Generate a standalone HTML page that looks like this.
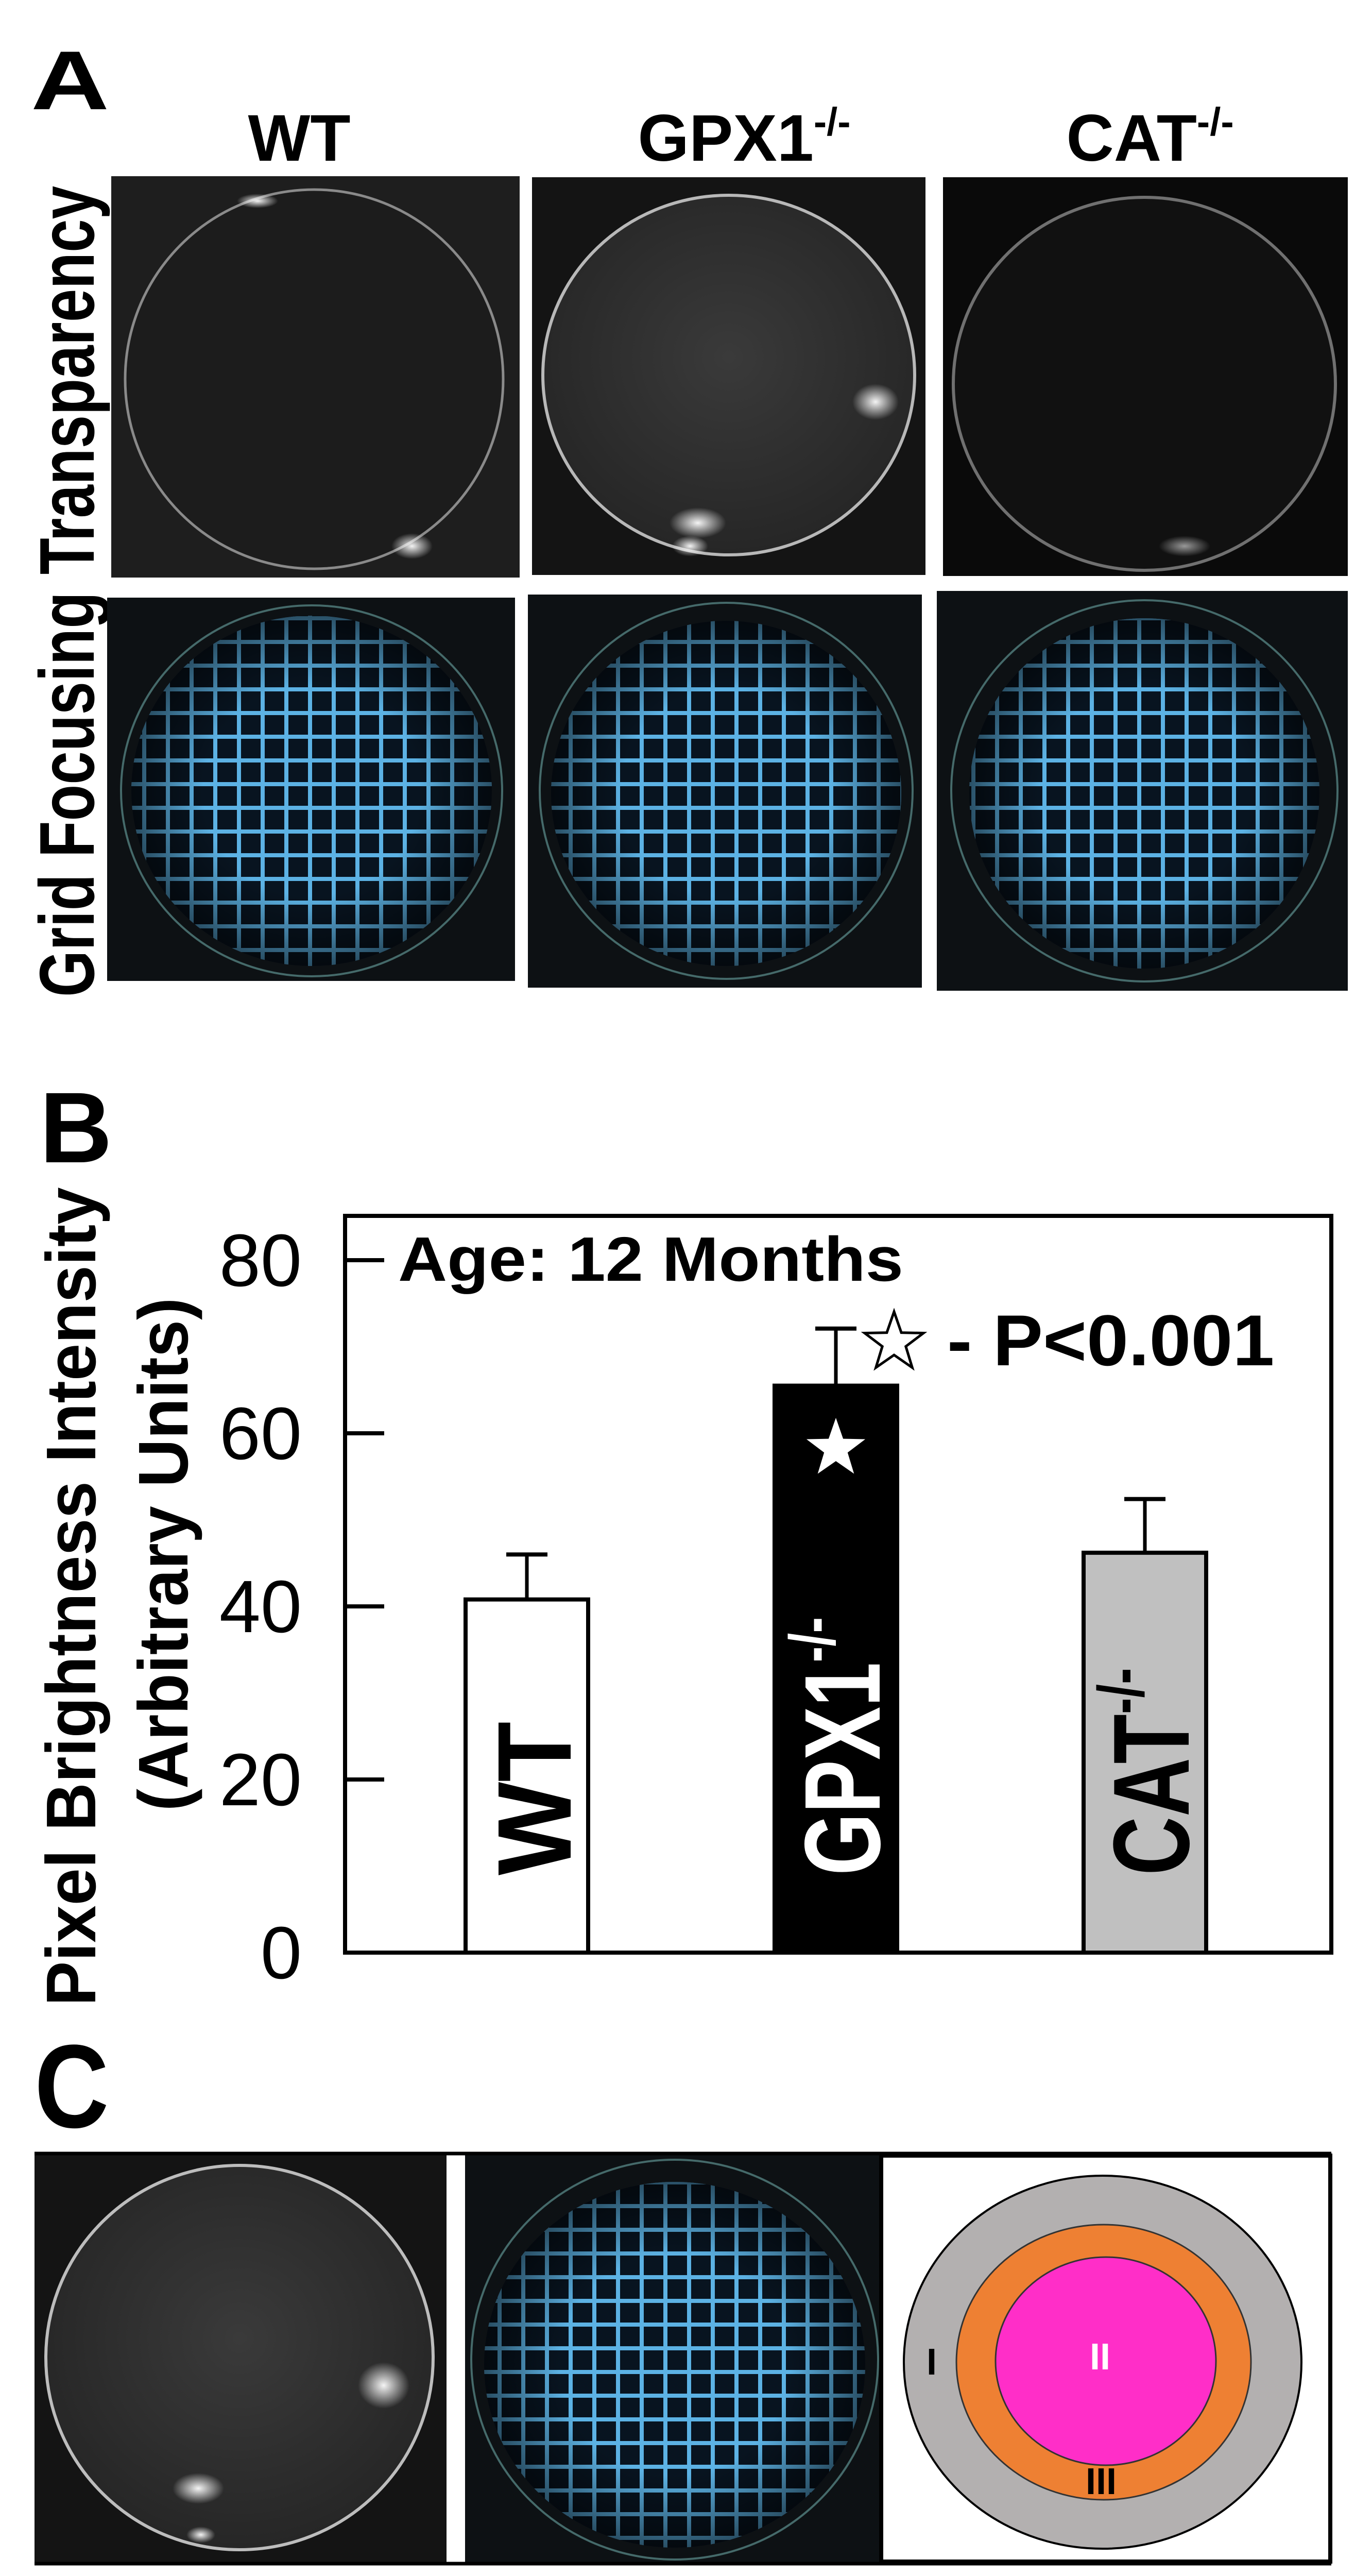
<!DOCTYPE html>
<html><head><meta charset="utf-8"><style>
html,body{margin:0;padding:0;background:#fff;width:2664px;height:5040px;overflow:hidden;}
svg{display:block;}
text{font-family:"Liberation Sans",Arial,sans-serif;}
</style></head><body>
<svg id="fig" xmlns="http://www.w3.org/2000/svg" width="2664" height="5040" viewBox="0 0 2664 5040">
<defs>
<pattern id="gridpat" width="46" height="46" patternUnits="userSpaceOnUse">
<rect width="46" height="46" fill="#081420"/>
<path d="M0 4 H46 M4 0 V46" stroke="#5cb2e4" stroke-width="8" fill="none"/>
</pattern>
<radialGradient id="vign" cx="50%" cy="50%" r="50%">
<stop offset="0.6" stop-color="#000" stop-opacity="0"/>
<stop offset="1" stop-color="#000" stop-opacity="0.55"/>
</radialGradient>
<radialGradient id="lensGray" cx="50%" cy="45%" r="55%">
<stop offset="0" stop-color="#3a3a3a"/>
<stop offset="1" stop-color="#262626"/>
</radialGradient>
<radialGradient id="glow" cx="50%" cy="50%" r="50%">
<stop offset="0" stop-color="#fff" stop-opacity="0.95"/>
<stop offset="1" stop-color="#fff" stop-opacity="0"/>
</radialGradient>
</defs>

<!-- Panel A -->
<g>
<text font-size="162" font-weight="bold" transform="translate(60,212) scale(1.3,1)">A</text>
<text x="581" y="312" font-size="128" font-weight="bold" text-anchor="middle">WT</text>
<text x="1445" y="312" font-size="128" font-weight="bold" text-anchor="middle">GPX1<tspan font-size="76" dy="-50">-/-</tspan></text>
<text x="2233" y="312" font-size="128" font-weight="bold" text-anchor="middle">CAT<tspan font-size="76" dy="-50">-/-</tspan></text>
<text font-size="116" font-weight="bold" text-anchor="middle" transform="translate(182,738) rotate(-90) scale(1,1.3)">Transparency</text>
<text font-size="116" font-weight="bold" text-anchor="middle" transform="translate(182,1542) rotate(-90) scale(1,1.3)">Grid Focusing</text>

<g>
<rect x="216" y="342" width="793" height="779" fill="#1e1e1e"/>
<ellipse cx="610" cy="736" rx="367" ry="368" fill="#1c1c1c" stroke="#8a8a8a" stroke-width="5"/>
<ellipse cx="500" cy="390" rx="40" ry="14" fill="url(#glow)"/>
<ellipse cx="800" cy="1060" rx="40" ry="25" fill="url(#glow)"/>
</g>
<g>
<rect x="1033" y="344" width="764" height="772" fill="#141414"/>
<ellipse cx="1415" cy="728" rx="361" ry="349" fill="url(#lensGray)" stroke="#b8b8b8" stroke-width="6"/>
<ellipse cx="1700" cy="780" rx="45" ry="35" fill="url(#glow)"/>
<ellipse cx="1355" cy="1015" rx="55" ry="30" fill="url(#glow)"/>
<ellipse cx="1340" cy="1060" rx="35" ry="20" fill="url(#glow)"/>
</g>
<g>
<rect x="1831" y="344" width="786" height="774" fill="#0a0a0a"/>
<ellipse cx="2222" cy="745" rx="371" ry="362" fill="#111" stroke="#707070" stroke-width="6"/>
<ellipse cx="2300" cy="1060" rx="50" ry="20" fill="url(#glow)" opacity="0.6"/>
</g>
<g>
<rect x="208" y="1160" width="792" height="744" fill="#0d1114"/>
<ellipse cx="605" cy="1535" rx="370" ry="360" fill="none" stroke="#456a6a" stroke-width="4"/>
<ellipse cx="605" cy="1535" rx="350" ry="340" fill="url(#gridpat)"/>
<ellipse cx="605" cy="1535" rx="350" ry="340" fill="url(#vign)"/>
</g>
<g>
<rect x="1025" y="1154" width="765" height="763" fill="#0d1114"/>
<ellipse cx="1410" cy="1535" rx="362" ry="365" fill="none" stroke="#456a6a" stroke-width="4"/>
<ellipse cx="1410" cy="1540" rx="340" ry="335" fill="url(#gridpat)"/>
<ellipse cx="1410" cy="1540" rx="340" ry="335" fill="url(#vign)"/>
</g>
<g>
<rect x="1819" y="1147" width="798" height="776" fill="#0d1114"/>
<ellipse cx="2222" cy="1535" rx="375" ry="370" fill="none" stroke="#456a6a" stroke-width="4"/>
<ellipse cx="2222" cy="1540" rx="340" ry="340" fill="url(#gridpat)"/>
<ellipse cx="2222" cy="1540" rx="340" ry="340" fill="url(#vign)"/>
</g>
</g>

<!-- Panel B -->
<g id="panelB">
<text font-size="195" font-weight="bold" transform="translate(77,2256)">B</text>
</g>

<!-- Panel C -->
<g>
<text font-size="230" font-weight="bold" transform="translate(67,4129) scale(0.87,1)">C</text>
<g>
<rect x="67" y="4180" width="800" height="796" fill="#141414"/>
<ellipse cx="465" cy="4576" rx="376" ry="373" fill="url(#lensGray)" stroke="#bdbdbd" stroke-width="6"/>
<ellipse cx="745" cy="4630" rx="50" ry="45" fill="url(#glow)"/>
<ellipse cx="385" cy="4830" rx="50" ry="30" fill="url(#glow)"/>
<ellipse cx="390" cy="4920" rx="28" ry="16" fill="url(#glow)"/>
</g>
<g>
<rect x="903" y="4180" width="808" height="796" fill="#0d1114"/>
<ellipse cx="1310" cy="4580" rx="395" ry="388" fill="none" stroke="#456a6a" stroke-width="4"/>
<ellipse cx="1310" cy="4590" rx="370" ry="355" fill="url(#gridpat)"/>
<ellipse cx="1310" cy="4590" rx="370" ry="355" fill="url(#vign)"/>
</g>
<line x1="67" y1="4180" x2="2585" y2="4180" stroke="#000" stroke-width="7"/>
<line x1="67" y1="4976" x2="2585" y2="4976" stroke="#000" stroke-width="7"/>
<g>
<rect x="1711" y="4184" width="872" height="788" fill="#fff" stroke="#000" stroke-width="8"/>
<ellipse cx="2141" cy="4585" rx="386" ry="362" fill="#b3b0b0" stroke="#000" stroke-width="4"/>
<ellipse cx="2143" cy="4585" rx="286" ry="267" fill="#ee8033" stroke="#333" stroke-width="3"/>
<ellipse cx="2147" cy="4583" rx="214" ry="202" fill="#ff2ec8" stroke="#333" stroke-width="3"/>
<text font-family="Liberation Serif,serif" font-weight="bold" font-size="72" text-anchor="middle" transform="translate(1809,4609)">I</text>
<text font-family="Liberation Serif,serif" font-weight="bold" font-size="72" fill="#fff" text-anchor="middle" transform="translate(2136,4599)">II</text>
<text font-family="Liberation Serif,serif" font-weight="bold" font-size="72" text-anchor="middle" transform="translate(2138,4841)">III</text>
</g>
</g>
</svg>
<script>
var categories = ['WT', 'GPX1', 'CAT'];
var values = [40.8, 65.5, 46.2];
var errors = [5.2, 6.6, 6.2];
var yTicks = [0, 20, 40, 60, 80];
var barColors = ['#ffffff', '#000000', '#c0c0c0'];
var labelColors = ['#000000', '#ffffff', '#000000'];

var NS = 'http://www.w3.org/2000/svg';
var g = document.getElementById('panelB');
var PL = 670, PR = 2585, PT = 2360, PB = 3790;
function yScale(v) { return PB - v * 16.8; }
function xCenter(i) { return 1023 + i * 600; }
var BW = 238;
function mk(tag, attrs, parent) {
  var e = document.createElementNS(NS, tag);
  for (var k in attrs) e.setAttribute(k, attrs[k]);
  (parent || g).appendChild(e);
  return e;
}
function starPts(cx, cy, R, r) {
  var p = [];
  for (var i = 0; i < 10; i++) {
    var a = -Math.PI / 2 + i * Math.PI / 5, rr = i % 2 ? r : R;
    p.push((cx + rr * Math.cos(a)).toFixed(1) + ',' + (cy + rr * Math.sin(a)).toFixed(1));
  }
  return p.join(' ');
}

// y-axis title
var t1 = mk('text', {'font-size': 130, 'font-weight': 'bold', 'text-anchor': 'middle', transform: 'translate(185,3099) rotate(-90) scale(1,1.05)'});
t1.textContent = 'Pixel Brightness Intensity';


var t2 = mk('text', {'font-size': 130, 'font-weight': 'bold', 'text-anchor': 'middle', transform: 'translate(364,3017) rotate(-90) scale(1,1.05)'});
t2.textContent = '(Arbitrary Units)';



// ticks
yTicks.forEach(function (v) {
  var y = yScale(v);
  var tk = mk('line', {x1: PL, x2: PL + 76, y1: y, y2: y, stroke: '#000', 'stroke-width': 8});
  
  
  var tl = mk('text', {'font-size': 144, 'text-anchor': 'end', transform: 'translate(586,' + (y + 50) + ')'});
  tl.textContent = String(v);
  
  
});

// bars
var labelSize = [192, 155, 158];
var labelSy = [1.06, 1.35, 1.33];
categories.forEach(function (c, i) {
  var cx = xCenter(i), top = yScale(values[i]), et = yScale(values[i] + errors[i]);
  var eb = mk('line', {x1: cx, x2: cx, y1: top, y2: et, stroke: '#000', 'stroke-width': 7});
  
  
  var cap = mk('line', {x1: cx - 40, x2: cx + 40, y1: et, y2: et, stroke: '#000', 'stroke-width': 8});
  
  
  var b = mk('rect', {x: cx - BW / 2, y: top, width: BW, height: PB - top, fill: barColors[i], stroke: '#000', 'stroke-width': 8});
  
  
  var lab = mk('text', {'font-size': labelSize[i], 'font-weight': 'bold', fill: labelColors[i],
    transform: 'translate(' + (cx + 85) + ',' + (PB - 150) + ') rotate(-90) scale(1,' + labelSy[i] + ')'});
  lab.textContent = c;
  if (i > 0) {
    var sp = mk('tspan', {'font-size': Math.round(labelSize[i] * 0.6), dy: -Math.round(labelSize[i] * 0.42)}, lab);
    sp.textContent = '-/-';
  }
  
  
});

// significance stars
var fs = mk('polygon', {points: starPts(xCenter(1), 2812, 60, 24), fill: '#fff'});


var hs = mk('polygon', {points: starPts(1736, 2606, 60, 24), fill: '#fff', stroke: '#000', 'stroke-width': 5});



// frame
var fr = mk('rect', {x: PL, y: PT, width: PR - PL, height: PB - PT, fill: 'none', stroke: '#000', 'stroke-width': 8});



var age = mk('text', {'font-size': 122, 'font-weight': 'bold', transform: 'translate(773,2486) scale(1.08,1)'});
age.textContent = 'Age: 12 Months';


var pv = mk('text', {'font-size': 140, 'font-weight': 'bold', transform: 'translate(1839,2650) scale(1.04,1)'});
pv.textContent = '- P<0.001';


</script>
</body></html>
